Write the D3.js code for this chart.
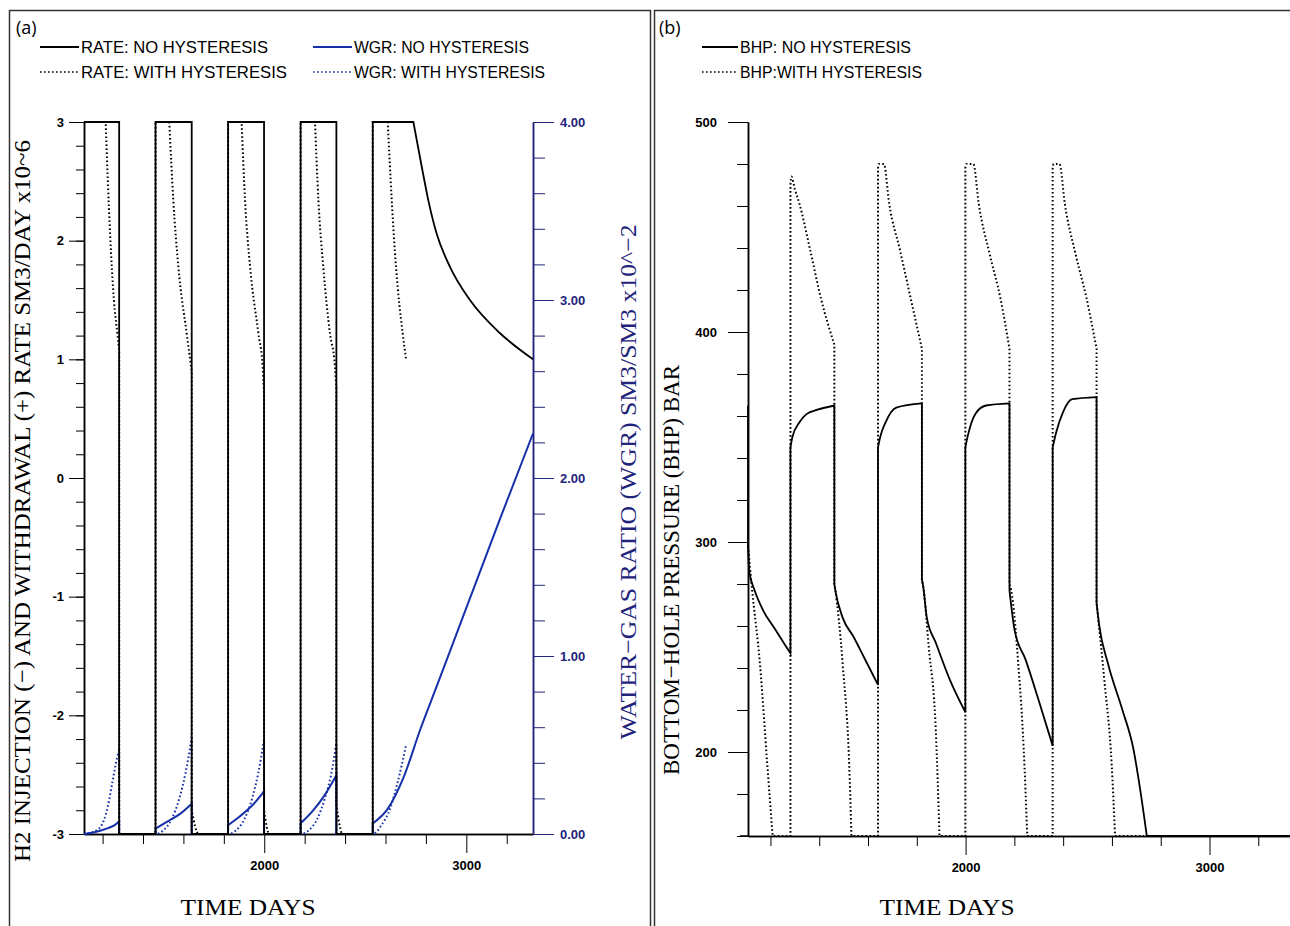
<!doctype html>
<html>
<head>
<meta charset="utf-8">
<script src="https://cdn.jsdelivr.net/npm/d3@7"></script>
<style>
  body { margin: 0; background: white; }
  svg { display: block; background: white; }
  .tick text { font-family: "Liberation Sans", Arial, sans-serif; font-weight: bold; font-size: 13px; }
  .ttl { font-family: "Liberation Serif", serif; }
  .leg { font-family: "Liberation Sans", Arial, sans-serif; font-size: 17px; }
  .lbl { font-family: "Open Sans", sans-serif; font-size: 18px; }
  .frame { fill: none; stroke: #333; stroke-width: 1.5px; }
  .domain { stroke-width: 1.5px; }
</style>
</head>
<body>
<svg width="1290" height="926"></svg>
<script>
// ---- data (days, value) ----
var timeDomain = [1108, 3330];
var timeMajor = [2000, 3000];
var timeMinor = [1200, 1400, 1600, 1800, 2200, 2400, 2600, 2800, 3200];

var rateMajor = [-3, -2, -1, 0, 1, 2, 3];
var wgrMajor = [0, 1, 2, 3, 4];
var bhpMajor = [200, 300, 400, 500];

// rate, SM3/DAY x10^6 (a repeated day marks a vertical jump or a sharp corner)
var rateNoHyst = [[1108,3],[1282,3],[1282,-3],[1462,-3],[1462,3],[1641,3],[1641,-3],[1821,-3],
  [1821,3],[1999,3],[1999,-3],[2180,-3],[2180,3],[2357,3],[2357,-3],[2537,-3],[2537,3],[2738,3],
  [2738,3],[2782,2.6],[2812,2.34],[2853,2.06],[2919,1.78],[3018,1.5],[3167,1.22],[3330,1.0]];
var rateHyst = [[1108,3],[1215,3],[1215,3],[1237,2.06],[1256,1.5],[1273,1.22],[1282,1.08],[1282,-3],[1462,-3],
  [1462,3],[1530,3],[1530,3],[1550,2.34],[1575,1.78],[1616,1.22],[1641,0.9],[1641,-2.8],[1675,-3],[1821,-3],
  [1821,3],[1888,3],[1888,3],[1905,2.34],[1930,1.78],[1971,1.22],[1992,0.94],[1999,0.72],[1999,-2.8],[2025,-3],[2180,-3],
  [2180,3],[2251,3],[2251,3],[2268,2.34],[2292,1.78],[2325,1.22],[2350,0.94],[2357,0.75],[2357,-2.75],[2388,-3],[2537,-3],
  [2537,3],[2611,3],[2611,3],[2631,2.34],[2652,1.78],[2685,1.22],[2702,1.0]];

// water-gas ratio, SM3/SM3 x10^-2
var wgrNoHyst = [[1108,0],[1160,0.01],[1220,0.03],[1260,0.05],[1282,0.07],[1282,0],[1462,0],
  [1462,0.03],[1520,0.07],[1580,0.11],[1641,0.17],[1641,0],[1821,0],
  [1821,0.05],[1880,0.1],[1940,0.16],[1999,0.24],[1999,0],[2180,0],
  [2180,0.06],[2240,0.13],[2300,0.22],[2357,0.33],[2357,0],[2537,0],
  [2537,0.06],[2610,0.14],[2690,0.32],[2773,0.59],[2857,0.84],[3000,1.27],[3170,1.78],[3330,2.25]];
var wgrHyst = [[1108,0],[1150,0.01],[1190,0.04],[1225,0.15],[1250,0.3],[1272,0.43],[1282,0.47],[1282,0],[1462,0],
  [1500,0.02],[1540,0.08],[1580,0.2],[1610,0.34],[1641,0.54],[1641,0],[1821,0],
  [1860,0.02],[1900,0.08],[1940,0.2],[1970,0.34],[1999,0.53],[1999,0],[2180,0],
  [2220,0.02],[2260,0.08],[2300,0.2],[2330,0.33],[2357,0.51],[2357,0],[2537,0],
  [2580,0.05],[2625,0.15],[2660,0.29],[2702,0.5]];

// bottom-hole pressure, BAR
var bhpNoHyst = [[1108,365],[1108,298],[1113,286],[1135,277],[1172,267],[1216,259],[1260,251],[1282,247],
  [1282,345],[1290,350],[1319,357],[1349,361],[1393,363],[1462,365],
  [1462,280],[1466,277],[1496,264],[1540,255],[1584,245],[1641,232],
  [1641,345],[1650,350],[1672,357],[1716,364],[1821,366],
  [1821,282],[1826,279],[1841,264],[1878,252],[1937,234],[1999,219],
  [1999,345],[2010,351],[2040,361],[2084,365],[2180,366],
  [2180,277],[2201,258],[2246,244],[2304,223],[2357,203],
  [2357,345],[2371,352],[2400,362],[2437,368],[2537,369],
  [2537,271],[2547,261],[2584,242],[2643,220],[2687,202],[2716,182],[2743,160],[2743,160],[3330,160]];
var bhpHyst = [[1108,298],[1125,277],[1157,242],[1187,194],[1209,160],[1209,160],[1282,160],
  [1282,470],[1286,474],[1300,468],[1319,461],[1363,439],[1407,416],[1462,394],
  [1462,280],[1466,277],[1496,242],[1525,187],[1532,160],[1532,160],[1641,160],
  [1641,478],[1644,480],[1665,480],[1687,461],[1731,439],[1775,416],[1821,392],
  [1821,282],[1826,279],[1849,250],[1878,210],[1893,160],[1893,160],[1999,160],
  [1999,478],[2003,480],[2032,480],[2054,461],[2099,437],[2143,416],[2180,392],
  [2180,280],[2187,277],[2216,242],[2238,202],[2253,160],[2253,160],[2357,160],
  [2357,478],[2361,480],[2385,480],[2407,461],[2451,437],[2496,416],[2537,392],
  [2537,271],[2569,234],[2599,194],[2613,160],[2613,160],[2731,160]];

// ---- drawing ----
var svg = d3.select("svg");
var navy = "#22237a", blue = "#1530a8";
var dotted = "1.6,2.4";

function range(a, b, s) { var r = []; for (var v = a; v <= b + 1e-9; v += s) r.push(+v.toFixed(4)); return r; }

// smooth runs, joined straight where the day repeats
function stepPath(data, xs, ys) {
  var segs = [], cur = [data[0]];
  for (var i = 1; i < data.length; i++) {
    if (data[i][0] === data[i - 1][0]) { segs.push(cur); cur = [data[i]]; }
    else cur.push(data[i]);
  }
  segs.push(cur);
  var ln = d3.line().x(function (d) { return xs(d[0]); }).y(function (d) { return ys(d[1]); }).curve(d3.curveMonotoneX);
  return segs.map(function (s, i) {
    var p = ln(s).replace(/Z$/, "");
    return i ? "L" + p.slice(1) : p;
  }).join("");
}

function series(data, xs, ys, color, width, dash) {
  svg.append("path").attr("d", stepPath(data, xs, ys)).attr("fill", "none")
    .attr("stroke", color).attr("stroke-width", width).attr("stroke-dasharray", dash);
}

// frames
svg.append("rect").attr("class", "frame").attr("x", 9.5).attr("y", 10.5).attr("width", 641).attr("height", 940);
svg.append("rect").attr("class", "frame").attr("x", 654.5).attr("y", 10.5).attr("width", 660).attr("height", 940);

// ===== panel (a) =====
var xA = d3.scaleLinear().domain(timeDomain).range([84, 533]);
var yRate = d3.scaleLinear().domain([-3, 3]).range([834, 122]);
var yWgr = d3.scaleLinear().domain([0, 4]).range([834, 122]);

svg.append("g").attr("transform", "translate(0,834)")
  .call(d3.axisBottom(xA).tickValues(timeMajor).tickSize(19).tickSizeOuter(0).tickPadding(8).tickFormat(d3.format("d")));
svg.append("g").attr("transform", "translate(0,834)")
  .call(d3.axisBottom(xA).tickValues(timeMinor).tickSize(10).tickSizeOuter(0).tickFormat(""));

svg.append("g").attr("transform", "translate(84,0)")
  .call(d3.axisLeft(yRate).tickValues(rateMajor).tickSize(15).tickSizeOuter(0).tickPadding(5)
    .tickFormat(function (d) { return String(d); }));
svg.append("g").attr("transform", "translate(84,0)")
  .call(d3.axisLeft(yRate).tickValues(range(-3, 3, 0.2)).tickSize(8).tickSizeOuter(0).tickFormat(""));

var ra = svg.append("g").attr("transform", "translate(533,0)")
  .call(d3.axisRight(yWgr).tickValues(wgrMajor).tickSize(21).tickSizeOuter(0).tickPadding(6).tickFormat(d3.format(".2f")));
var rm = svg.append("g").attr("transform", "translate(533,0)")
  .call(d3.axisRight(yWgr).tickValues(range(0, 4, 0.2)).tickSize(12).tickSizeOuter(0).tickFormat(""));
ra.selectAll("line,path").attr("stroke", navy);
ra.selectAll("text").attr("fill", navy);
rm.selectAll("line,path").attr("stroke", navy);

series(wgrNoHyst, xA, yWgr, blue, 2, null);
series(wgrHyst, xA, yWgr, blue, 2, dotted);
series(rateNoHyst, xA, yRate, "black", 1.8, null);
series(rateHyst, xA, yRate, "black", 2, dotted);

svg.append("text").attr("class", "ttl").attr("x", 248).attr("y", 915).attr("text-anchor", "middle")
  .attr("font-size", 24).attr("textLength", 135).attr("lengthAdjust", "spacingAndGlyphs").text("TIME  DAYS");
svg.append("text").attr("class", "ttl").attr("transform", "translate(30,501) rotate(-90)").attr("text-anchor", "middle")
  .attr("font-size", 24).attr("textLength", 722).attr("lengthAdjust", "spacingAndGlyphs")
  .text("H2 INJECTION (\u2212) AND WITHDRAWAL (+) RATE  SM3/DAY  x10~6");
svg.append("text").attr("class", "ttl").attr("transform", "translate(636,482) rotate(-90)").attr("text-anchor", "middle")
  .attr("font-size", 24).attr("textLength", 515).attr("lengthAdjust", "spacingAndGlyphs").attr("fill", navy)
  .text("WATER\u2212GAS RATIO (WGR)  SM3/SM3  x10^\u22122");

// legend (a)
svg.append("text").attr("class", "lbl").attr("x", 16).attr("y", 34).text("(a)");
var legA = [
  { x: 40, y: 47, c: "black", d: null, t: "RATE: NO HYSTERESIS", w: 187 },
  { x: 40, y: 72, c: "black", d: dotted, t: "RATE: WITH HYSTERESIS", w: 206 },
  { x: 313, y: 47, c: blue, d: null, t: "WGR: NO HYSTERESIS", w: 175 },
  { x: 313, y: 72, c: blue, d: dotted, t: "WGR: WITH HYSTERESIS", w: 191 }
];
legA.forEach(function (l) {
  svg.append("line").attr("x1", l.x).attr("x2", l.x + 39).attr("y1", l.y).attr("y2", l.y)
    .attr("stroke", l.c).attr("stroke-width", l.d ? 1.6 : 2).attr("stroke-dasharray", l.d);
  svg.append("text").attr("class", "leg").attr("x", l.x + 41).attr("y", l.y + 6)
    .attr("textLength", l.w).attr("lengthAdjust", "spacingAndGlyphs").text(l.t);
});

// ===== panel (b) =====
var xB = d3.scaleLinear().domain(timeDomain).range([748, 1290]);
var yB = d3.scaleLinear().domain([160, 500]).range([836, 122]);

svg.append("line").attr("x1", 740).attr("x2", 748).attr("y1", 836).attr("y2", 836).attr("stroke", "black").attr("stroke-width", 1.5);
svg.append("g").attr("transform", "translate(0,836)")
  .call(d3.axisBottom(xB).tickValues(timeMajor).tickSize(19).tickSizeOuter(0).tickPadding(8).tickFormat(d3.format("d")));
svg.append("g").attr("transform", "translate(0,836)")
  .call(d3.axisBottom(xB).tickValues(timeMinor).tickSize(10).tickSizeOuter(0).tickFormat(""));
svg.append("g").attr("transform", "translate(748,0)")
  .call(d3.axisLeft(yB).tickValues(bhpMajor).tickSize(20).tickSizeOuter(0).tickPadding(11));
svg.append("g").attr("transform", "translate(748,0)")
  .call(d3.axisLeft(yB).tickValues(range(160, 500, 20)).tickSize(11).tickSizeOuter(0).tickFormat(""));

series(bhpHyst, xB, yB, "black", 2, dotted);
series(bhpNoHyst, xB, yB, "black", 1.8, null);

svg.append("text").attr("class", "ttl").attr("x", 947).attr("y", 915).attr("text-anchor", "middle")
  .attr("font-size", 24).attr("textLength", 135).attr("lengthAdjust", "spacingAndGlyphs").text("TIME  DAYS");
svg.append("text").attr("class", "ttl").attr("transform", "translate(679,570) rotate(-90)").attr("text-anchor", "middle")
  .attr("font-size", 24).attr("textLength", 410).attr("lengthAdjust", "spacingAndGlyphs")
  .text("BOTTOM\u2212HOLE PRESSURE (BHP) BAR");

svg.append("text").attr("class", "lbl").attr("x", 659).attr("y", 34).text("(b)");
var legB = [
  { x: 702, y: 47, d: null, t: "BHP: NO HYSTERESIS", w: 171 },
  { x: 702, y: 72, d: dotted, t: "BHP:WITH HYSTERESIS", w: 182 }
];
legB.forEach(function (l) {
  svg.append("line").attr("x1", l.x).attr("x2", l.x + 36).attr("y1", l.y).attr("y2", l.y)
    .attr("stroke", "black").attr("stroke-width", l.d ? 1.6 : 2).attr("stroke-dasharray", l.d);
  svg.append("text").attr("class", "leg").attr("x", l.x + 38).attr("y", l.y + 6)
    .attr("textLength", l.w).attr("lengthAdjust", "spacingAndGlyphs").text(l.t);
});
</script>
</body>
</html>
